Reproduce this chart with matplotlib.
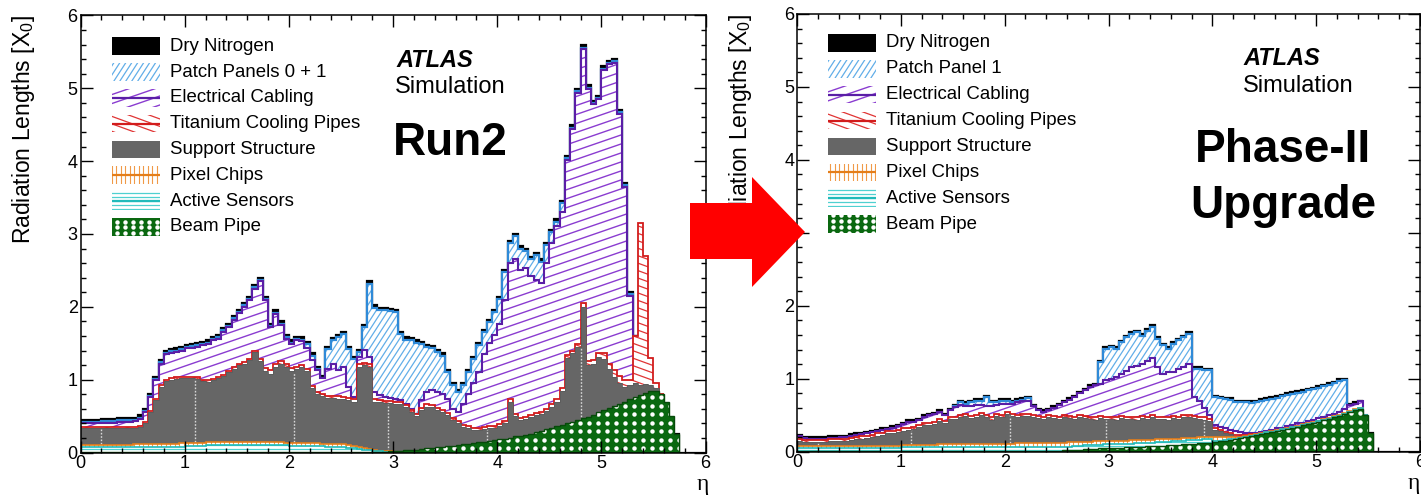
import numpy as np
import matplotlib
matplotlib.use("Agg")
import matplotlib.pyplot as plt
from matplotlib.collections import LineCollection
from matplotlib.patches import Rectangle, Polygon
from matplotlib.ticker import MultipleLocator

plt.rcParams['font.family'] = ['Liberation Sans', 'DejaVu Sans']
plt.rcParams['mathtext.fontset'] = 'custom'
plt.rcParams['mathtext.rm'] = 'Liberation Sans'
plt.rcParams['mathtext.it'] = 'Liberation Sans:italic'
plt.rcParams['mathtext.bf'] = 'Liberation Sans:bold'

# ---------------------------------------------------------------------------
# Data: eta bins of width 0.05 from 0 to 6 (120 bins).
# Each array is the upper edge (cumulative) of a stacked component, read off
# the chart.  0 means "component absent here" (edge = edge of the one below).
# ---------------------------------------------------------------------------
eta_edges = np.linspace(0.0, 6.0, 121)

# ----------------------------- Run 2 -----------------------------------
run2_beampipe = ([0.005] * 50
    + [0.008, 0.008, 0.01, 0.01, 0.01, 0.01, 0.01, 0.01, 0.01, 0.015]
    + [0.02, 0.025, 0.03, 0.035, 0.04, 0.05, 0.055, 0.06, 0.07, 0.075]
    + [0.085, 0.09, 0.1, 0.11, 0.12, 0.13, 0.14, 0.15, 0.16, 0.17]
    + [0.18, 0.19, 0.2, 0.22, 0.23, 0.24, 0.26, 0.28, 0.3, 0.32]
    + [0.34, 0.36, 0.38, 0.4, 0.42, 0.44, 0.47, 0.49, 0.52, 0.55]
    + [0.58, 0.61, 0.64, 0.67, 0.7, 0.73, 0.76, 0.79, 0.82, 0.85]
    + [0.85, 0.8, 0.7, 0.5, 0.25, 0, 0, 0, 0, 0])
run2_sensors = ([0.075] * 10 + [0.08] * 10
    + [0.09, 0.09, 0.095, 0.095, 0.1, 0.1, 0.1, 0.1, 0.1, 0.1]
    + [0.1] * 10
    + [0.095, 0.095, 0.09, 0.09, 0.09, 0.085, 0.085, 0.08, 0.08, 0.08]
    + [0.07, 0.065, 0.06, 0.05, 0.04, 0.03, 0.02, 0.015, 0, 0]
    + [0] * 60)
run2_chips = ([0.105] * 10
    + [0.11, 0.11, 0.11, 0.115, 0.115, 0.115, 0.12, 0.12, 0.12, 0.125]
    + [0.13, 0.13, 0.135, 0.135, 0.14, 0.14, 0.14, 0.14, 0.14, 0.14]
    + [0.14, 0.14, 0.14, 0.14, 0.14, 0.14, 0.14, 0.14, 0.14, 0.135]
    + [0.13, 0.13, 0.13, 0.125, 0.125, 0.125, 0.12, 0.12, 0.12, 0.12]
    + [0.11, 0.1, 0.09, 0.075, 0.06, 0.045, 0.03, 0.02, 0.015, 0]
    + [0] * 60)
run2_support = ([0.34] * 10
    + [0.34, 0.35, 0.4, 0.55, 0.72, 0.9, 0.98, 1.0, 1.01, 1.02]
    + [1.02, 1.02, 1.01, 0.98, 0.97, 0.99, 1.02, 1.05, 1.1, 1.15]
    + [1.2, 1.22, 1.27, 1.38, 1.25, 1.12, 1.08, 1.18, 1.22, 1.18]
    + [1.12, 1.15, 1.17, 1.12, 0.88, 0.8, 0.77, 0.75, 0.75, 0.74]
    + [0.73, 0.72, 0.7, 1.18, 1.2, 1.18, 0.7, 0.69, 0.68, 0.68]
    + [0.67, 0.66, 0.62, 0.56, 0.5, 0.58, 0.63, 0.62, 0.58, 0.55]
    + [0.51, 0.45, 0.4, 0.35, 0.33, 0.31, 0.31, 0.32, 0.33, 0.34]
    + [0.36, 0.4, 0.7, 0.5, 0.44, 0.46, 0.49, 0.51, 0.53, 0.57]
    + [0.62, 0.7, 0.85, 1.3, 1.36, 1.45, 2.0, 1.2, 1.22, 1.31]
    + [1.29, 1.15, 1.04, 0.95, 0.9, 0.92, 0.95, 0.93, 0.94, 0.92]
    + [0.88, 0, 0, 0, 0, 0, 0, 0, 0, 0])
run2_cooling = ([0.35] * 10
    + [0.35, 0.36, 0.42, 0.57, 0.74, 0.92, 1.0, 1.02, 1.03, 1.04]
    + [1.04, 1.04, 1.03, 1.0, 0.99, 1.01, 1.04, 1.07, 1.12, 1.17]
    + [1.22, 1.24, 1.29, 1.4, 1.28, 1.16, 1.13, 1.22, 1.26, 1.22]
    + [1.16, 1.18, 1.2, 1.15, 0.91, 0.83, 0.8, 0.78, 0.78, 0.77]
    + [0.76, 0.75, 0.73, 1.21, 1.23, 1.21, 0.73, 0.72, 0.71, 0.71]
    + [0.7, 0.69, 0.65, 0.59, 0.53, 0.61, 0.66, 0.65, 0.61, 0.58]
    + [0.54, 0.48, 0.43, 0.38, 0.36, 0.34, 0.34, 0.35, 0.36, 0.37]
    + [0.39, 0.43, 0.73, 0.53, 0.47, 0.49, 0.52, 0.54, 0.56, 0.6]
    + [0.66, 0.74, 0.89, 1.34, 1.4, 1.49, 2.05, 1.25, 1.27, 1.36]
    + [1.36, 1.22, 1.13, 1.05, 1.0, 1.0, 1.6, 3.15, 2.7, 1.3]
    + [0.95, 0, 0, 0, 0, 0, 0, 0, 0, 0])
run2_cabling = ([0.4, 0.4, 0.4, 0.4, 0.41, 0.41, 0.41, 0.42, 0.42, 0.42]
    + [0.43, 0.46, 0.55, 0.76, 0.99, 1.22, 1.35, 1.37, 1.38, 1.4]
    + [1.43, 1.44, 1.45, 1.47, 1.49, 1.54, 1.56, 1.66, 1.72, 1.82]
    + [1.91, 2.0, 2.09, 2.25, 2.35, 2.09, 1.72, 1.9, 1.75, 1.56]
    + [1.49, 1.54, 1.53, 1.43, 1.27, 1.13, 1.02, 1.15, 1.22, 1.13]
    + [1.18, 0.9, 0.76, 1.31, 1.41, 1.31, 0.83, 0.79, 0.76, 0.75]
    + [0.74, 0.72, 0.67, 0.6, 0.53, 0.72, 0.83, 0.86, 0.83, 0.81]
    + [0.74, 0.6, 0.56, 0.67, 0.81, 0.95, 1.1, 1.35, 1.5, 1.62]
    + [1.77, 2.1, 2.6, 2.65, 2.51, 2.53, 2.42, 2.37, 2.33, 2.6]
    + [2.88, 3.11, 3.3, 4.02, 4.44, 4.94, 5.54, 4.99, 4.78, 4.85]
    + [5.25, 5.33, 5.35, 4.65, 3.65, 2.15, 0, 0, 0, 0]
    + [0] * 10)
run2_patch = ([0.42, 0.42, 0.42, 0.42, 0.43, 0.43, 0.43, 0.44, 0.44, 0.44]
    + [0.45, 0.48, 0.57, 0.78, 1.01, 1.24, 1.37, 1.39, 1.4, 1.42]
    + [1.45, 1.46, 1.47, 1.49, 1.51, 1.56, 1.58, 1.68, 1.74, 1.84]
    + [1.93, 2.02, 2.11, 2.27, 2.37, 2.11, 1.74, 1.92, 1.77, 1.58]
    + [1.51, 1.56, 1.55, 1.49, 1.33, 1.15, 1.02, 1.42, 1.54, 1.58]
    + [1.63, 1.42, 1.28, 1.38, 1.72, 2.32, 1.99, 1.95, 1.95, 1.94]
    + [1.93, 1.63, 1.55, 1.54, 1.51, 1.49, 1.45, 1.43, 1.38, 1.33]
    + [1.1, 0.92, 0.83, 0.92, 1.1, 1.28, 1.47, 1.65, 1.79, 1.93]
    + [2.11, 2.48, 2.87, 2.97, 2.8, 2.76, 2.66, 2.71, 2.62, 2.85]
    + [3.03, 3.17, 3.42, 4.04, 4.46, 4.96, 5.56, 5.01, 4.8, 4.87]
    + [5.27, 5.35, 5.37, 4.67, 3.67, 2.17, 0, 0, 0, 0]
    + [0] * 10)
run2_nitrogen = ([0.45, 0.45, 0.45, 0.45, 0.46, 0.46, 0.46, 0.47, 0.47, 0.47]
    + [0.48, 0.51, 0.6, 0.81, 1.04, 1.27, 1.4, 1.42, 1.43, 1.45]
    + [1.48, 1.49, 1.5, 1.52, 1.54, 1.59, 1.61, 1.71, 1.77, 1.87]
    + [1.96, 2.05, 2.14, 2.3, 2.4, 2.14, 1.77, 1.95, 1.8, 1.61]
    + [1.54, 1.59, 1.58, 1.52, 1.36, 1.18, 1.05, 1.45, 1.57, 1.61]
    + [1.66, 1.45, 1.31, 1.41, 1.75, 2.35, 2.02, 1.98, 1.98, 1.97]
    + [1.96, 1.66, 1.58, 1.57, 1.54, 1.52, 1.48, 1.46, 1.41, 1.36]
    + [1.13, 0.95, 0.86, 0.95, 1.13, 1.31, 1.5, 1.68, 1.82, 1.96]
    + [2.14, 2.51, 2.9, 3.0, 2.83, 2.79, 2.69, 2.74, 2.65, 2.88]
    + [3.06, 3.2, 3.45, 4.07, 4.49, 4.99, 5.59, 5.04, 4.83, 4.9]
    + [5.3, 5.38, 5.4, 4.7, 3.7, 2.2, 0, 0, 0, 0]
    + [0] * 10)
run2_gap_eta = [0.2, 1.1, 2.05, 2.95, 3.9, 4.8]

# ----------------------------- Phase-II --------------------------------
p2_beampipe = ([0.012] * 50
    + [0.015, 0.018, 0.02, 0.025, 0.03, 0.035, 0.04, 0.042, 0.045, 0.048]
    + [0.05, 0.052, 0.055, 0.058, 0.062, 0.065, 0.068, 0.072, 0.076, 0.078]
    + [0.08, 0.085, 0.09, 0.095, 0.1, 0.105, 0.11, 0.115, 0.12, 0.125]
    + [0.13, 0.14, 0.15, 0.16, 0.17, 0.185, 0.2, 0.21, 0.225, 0.24]
    + [0.26, 0.27, 0.28, 0.3, 0.31, 0.33, 0.34, 0.36, 0.38, 0.39]
    + [0.41, 0.43, 0.45, 0.47, 0.49, 0.51, 0.54, 0.57, 0.59, 0.5]
    + [0.25, 0, 0, 0, 0, 0, 0, 0, 0, 0])
p2_sensors = ([0.055] * 20 + [0.06] * 10 + [0.065] * 20
    + [0.065, 0.068, 0.07, 0.075, 0.08, 0.085, 0.09, 0.092, 0.095, 0.1]
    + [0.1, 0.102, 0.105, 0.108, 0.112, 0.115, 0.118, 0.122, 0.126, 0.13]
    + [0.13, 0.135, 0.14, 0.145, 0.15, 0.155, 0.16, 0.165, 0.17, 0.175]
    + [0.145, 0.15, 0.16, 0.17, 0.18, 0.19, 0.205, 0.215, 0.23, 0.245]
    + [0.265, 0.275, 0.285, 0.305, 0.315, 0.335, 0.345, 0.365, 0.385, 0.395]
    + [0.415, 0.435, 0.455, 0.475, 0.495, 0.515, 0.545, 0.575, 0.595, 0]
    + [0] * 10)
p2_chips = ([0.075] * 10 + [0.08] * 10
    + [0.09, 0.09, 0.09, 0.09, 0.095, 0.095, 0.095, 0.1, 0.1, 0.1]
    + [0.1, 0.1, 0.1, 0.105, 0.105, 0.105, 0.11, 0.11, 0.11, 0.11]
    + [0.11, 0.11, 0.115, 0.115, 0.115, 0.12, 0.12, 0.12, 0.12, 0.125]
    + [0.125, 0.125, 0.13, 0.13, 0.13, 0.135, 0.135, 0.14, 0.14, 0.14]
    + [0.145, 0.145, 0.15, 0.15, 0.155, 0.155, 0.16, 0.165, 0.165, 0.17]
    + [0.17, 0.175, 0.18, 0.18, 0.185, 0.19, 0.19, 0.195, 0.2, 0.2]
    + [0.2, 0.2, 0.2, 0.2, 0.2, 0.205, 0.215, 0.225, 0.24, 0.255]
    + [0.275, 0.285, 0.295, 0.315, 0.325, 0.345, 0.355, 0.375, 0.395, 0.405]
    + [0.425, 0.445, 0.465, 0.485, 0.505, 0.525, 0.555, 0.585, 0.6, 0]
    + [0] * 10)
p2_support = ([0.14, 0.135, 0.13, 0.13, 0.135, 0.135, 0.14, 0.14, 0.145, 0.15]
    + [0.16, 0.17, 0.18, 0.19, 0.2, 0.22, 0.23, 0.25, 0.26, 0.27]
    + [0.29, 0.3, 0.31, 0.34, 0.36, 0.37, 0.38, 0.42, 0.39, 0.45]
    + [0.45, 0.47, 0.49, 0.46, 0.47, 0.5, 0.47, 0.44, 0.49, 0.47]
    + [0.52, 0.49, 0.47, 0.49, 0.49, 0.47, 0.46, 0.45, 0.47, 0.46]
    + [0.45, 0.47, 0.46, 0.45, 0.47, 0.46, 0.45, 0.44, 0.46, 0.45]
    + [0.45, 0.44, 0.46, 0.45, 0.45, 0.44, 0.46, 0.45, 0.47, 0.45]
    + [0.45, 0.44, 0.46, 0.45, 0.47, 0.47, 0.46, 0.45, 0.44, 0.42]
    + [0.3, 0.28, 0.26, 0.24, 0.22, 0.22, 0.22, 0.23, 0, 0]
    + [0] * 30)
p2_cooling = ([0.17, 0.165, 0.16, 0.16, 0.165, 0.165, 0.17, 0.17, 0.175, 0.18]
    + [0.19, 0.2, 0.21, 0.22, 0.23, 0.25, 0.26, 0.28, 0.29, 0.3]
    + [0.32, 0.33, 0.34, 0.37, 0.39, 0.4, 0.41, 0.45, 0.42, 0.48]
    + [0.48, 0.5, 0.52, 0.49, 0.5, 0.53, 0.5, 0.47, 0.52, 0.5]
    + [0.55, 0.52, 0.5, 0.52, 0.52, 0.5, 0.49, 0.48, 0.5, 0.49]
    + [0.48, 0.5, 0.49, 0.48, 0.5, 0.49, 0.48, 0.47, 0.49, 0.48]
    + [0.48, 0.47, 0.49, 0.48, 0.48, 0.47, 0.49, 0.48, 0.5, 0.48]
    + [0.48, 0.47, 0.49, 0.48, 0.5, 0.5, 0.49, 0.48, 0.47, 0.45]
    + [0.32, 0.3, 0.27, 0.25, 0.23, 0.23, 0.23, 0.24, 0, 0]
    + [0] * 30)
p2_cabling = ([0.21, 0.185, 0.175, 0.175, 0.18, 0.18, 0.19, 0.19, 0.2, 0.2]
    + [0.22, 0.23, 0.24, 0.25, 0.27, 0.28, 0.3, 0.31, 0.33, 0.35]
    + [0.38, 0.41, 0.41, 0.43, 0.48, 0.5, 0.51, 0.55, 0.5, 0.57]
    + [0.61, 0.64, 0.62, 0.63, 0.64, 0.64, 0.62, 0.63, 0.64, 0.65]
    + [0.66, 0.66, 0.68, 0.69, 0.7, 0.62, 0.57, 0.55, 0.57, 0.6]
    + [0.64, 0.68, 0.71, 0.75, 0.8, 0.84, 0.89, 0.91, 0.93, 0.98]
    + [1.0, 1.02, 1.07, 1.11, 1.16, 1.18, 1.2, 1.25, 1.29, 1.16]
    + [1.07, 1.09, 1.09, 1.14, 1.16, 1.2, 0.75, 0.7, 0.6, 0.5]
    + [0.36, 0.34, 0.32, 0.3, 0.29, 0.27, 0.26, 0.25, 0.26, 0.27]
    + [0.29, 0.3, 0.32, 0.33, 0.35, 0.37, 0.39, 0.4, 0.42, 0.44]
    + [0.46, 0.48, 0.5, 0.52, 0.55, 0.58, 0.64, 0.66, 0.69, 0.5]
    + [0.25, 0, 0, 0, 0, 0, 0, 0, 0, 0])
p2_patch = ([0.21, 0.185, 0.175, 0.175, 0.18, 0.18, 0.19, 0.19, 0.2, 0.2]
    + [0.22, 0.23, 0.24, 0.25, 0.27, 0.28, 0.3, 0.31, 0.33, 0.35]
    + [0.38, 0.41, 0.41, 0.43, 0.48, 0.5, 0.51, 0.55, 0.5, 0.57]
    + [0.62, 0.68, 0.66, 0.68, 0.7, 0.7, 0.75, 0.68, 0.68, 0.7]
    + [0.7, 0.68, 0.7, 0.71, 0.73, 0.62, 0.57, 0.55, 0.57, 0.6]
    + [0.64, 0.68, 0.71, 0.75, 0.8, 0.84, 0.89, 0.91, 1.23, 1.41]
    + [1.43, 1.41, 1.5, 1.57, 1.62, 1.64, 1.59, 1.66, 1.71, 1.55]
    + [1.46, 1.41, 1.48, 1.53, 1.57, 1.62, 1.14, 1.14, 1.12, 1.12]
    + [0.75, 0.73, 0.72, 0.71, 0.68, 0.68, 0.68, 0.67, 0.68, 0.7]
    + [0.71, 0.725, 0.74, 0.76, 0.78, 0.795, 0.81, 0.825, 0.84, 0.86]
    + [0.88, 0.9, 0.92, 0.94, 0.97, 0.98, 0.64, 0.66, 0.69, 0.5]
    + [0.25, 0, 0, 0, 0, 0, 0, 0, 0, 0])
p2_nitrogen = ([0.23, 0.205, 0.195, 0.195, 0.2, 0.2, 0.21, 0.21, 0.22, 0.22]
    + [0.24, 0.25, 0.26, 0.27, 0.29, 0.3, 0.32, 0.33, 0.35, 0.37]
    + [0.4, 0.43, 0.43, 0.45, 0.5, 0.52, 0.53, 0.57, 0.52, 0.59]
    + [0.64, 0.7, 0.68, 0.7, 0.72, 0.72, 0.77, 0.7, 0.7, 0.72]
    + [0.72, 0.7, 0.72, 0.73, 0.75, 0.64, 0.59, 0.57, 0.59, 0.62]
    + [0.66, 0.7, 0.73, 0.77, 0.82, 0.86, 0.91, 0.93, 1.25, 1.43]
    + [1.45, 1.43, 1.52, 1.59, 1.64, 1.66, 1.61, 1.68, 1.73, 1.57]
    + [1.48, 1.43, 1.5, 1.55, 1.59, 1.64, 1.16, 1.16, 1.14, 1.14]
    + [0.77, 0.75, 0.74, 0.73, 0.7, 0.7, 0.7, 0.69, 0.7, 0.72]
    + [0.73, 0.745, 0.76, 0.78, 0.8, 0.815, 0.83, 0.845, 0.86, 0.88]
    + [0.9, 0.92, 0.94, 0.96, 0.99, 1.0, 0.66, 0.68, 0.69, 0.5]
    + [0.25, 0, 0, 0, 0, 0, 0, 0, 0, 0])
p2_gap_eta = [0.2, 1.1, 2.05, 2.98, 3.92]

# component keys, bottom of the stack first
stack_keys = ["beampipe", "sensors", "chips", "support", "cooling",
              "cabling", "patch", "nitrogen"]
run2_labels = {"nitrogen": "Dry Nitrogen", "patch": "Patch Panels 0 + 1",
               "cabling": "Electrical Cabling", "cooling": "Titanium Cooling Pipes",
               "support": "Support Structure", "chips": "Pixel Chips",
               "sensors": "Active Sensors", "beampipe": "Beam Pipe"}
p2_labels = dict(run2_labels, patch="Patch Panel 1")

# ---------------------------------------------------------------------------
# Styles (ROOT-like fills)
# ---------------------------------------------------------------------------
STYLES = {
    "nitrogen": dict(face="black", line="black", lw=1.6),
    "patch":    dict(face="white", hatch=("#62aee8", 57, 5.0, 0.9), line="#2f8ad8", lw=1.6),
    "cabling":  dict(face="white", hatch=("#8a3cd0", 19, 8.5, 1.0), line="#5a1ea6", lw=1.5, mid=True),
    "cooling":  dict(face="white", hatch=("#e03434", -20, 7.0, 0.9), line="#d21c1c", lw=1.3, mid=True),
    "support":  dict(face="#666666", line="#5c5c5c", lw=0.6),
    "chips":    dict(face="white", hatch=("#f09a48", 90, 4.5, 0.8), line="#e47e1a", lw=1.2, mid=True),
    "sensors":  dict(face="white", hatch=("#4fd0d0", 0, 4.0, 0.9), line="#1fbaba", lw=1.2, mid=True),
    "beampipe": dict(face="#0a6810", dots=True, line="#064a0a", lw=1.0),
}

FIG_W, FIG_H = 1421, 498
fig = plt.figure(figsize=(FIG_W / 100, FIG_H / 100), dpi=100)
fig.patch.set_facecolor("white")


def axes_px(ax):
    pos = ax.get_position()
    return pos.width * FIG_W, pos.height * FIG_H


def add_hatch(ax, clip, color, angle, spacing, lw, zorder):
    W, H = axes_px(ax)
    a = np.deg2rad(angle)
    d = np.array([np.cos(a), np.sin(a)])
    nrm = np.array([-np.sin(a), np.cos(a)])
    R = np.hypot(W, H)
    c0 = np.array([W / 2, H / 2])
    offs = np.arange(-R, R + spacing, spacing)
    p0 = c0 + offs[:, None] * nrm - R * d
    p1 = c0 + offs[:, None] * nrm + R * d
    segs = np.stack([p0 / [W, H], p1 / [W, H]], axis=1)
    lc = LineCollection(segs, colors=color, linewidths=lw,
                        transform=ax.transAxes, zorder=zorder)
    ax.add_collection(lc, autolim=False)
    lc.set_clip_path(clip)


def add_dots(ax, clip, zorder, dx=9.0, dy=8.5, size=3.2):
    W, H = axes_px(ax)
    gx, gy = np.meshgrid(np.arange(dx / 2, W, dx) / W, np.arange(dy / 2, H, dy) / H)
    sc = ax.scatter(gx.ravel(), gy.ravel(), s=size ** 2, c="white", marker="o",
                    linewidths=0, transform=ax.transAxes, zorder=zorder)
    sc.set_clip_path(clip)


def draw_stack(ax, layers, gaps):
    levels = np.maximum.accumulate(np.vstack([np.asarray(l, float) for l in layers]), axis=0)
    n = len(stack_keys)
    for k in reversed(range(n)):           # ROOT draws the biggest first
        key = stack_keys[k]
        st = STYLES[key]
        lev = levels[k]
        below = levels[k - 1] if k > 0 else np.zeros_like(lev)
        z = 1.0 + 0.17 * (n - 1 - k)
        patch = ax.stairs(lev, eta_edges, baseline=0, fill=True, facecolor=st["face"],
                          edgecolor="none", linewidth=0, zorder=z)
        if "hatch" in st:
            add_hatch(ax, patch, *st["hatch"], zorder=z + 0.04)
        if st.get("dots"):
            add_dots(ax, patch, z + 0.04)
        valid = (lev - below) > 1e-9
        if key == "nitrogen":
            valid |= lev <= 1e-9
        v = valid.copy()
        v[1:] |= valid[:-1]
        v[:-1] |= valid[1:]
        ax.stairs(np.where(v, lev, np.nan), eta_edges, baseline=None,
                  color=st["line"], linewidth=st["lw"], zorder=z + 0.08)
        if key == "support":
            chips_top = levels[2]
            for g in gaps:
                i = int(g / 0.05)
                ax.vlines(g, chips_top[i] + 0.01, lev[i] - 0.01, colors="#d8d8d8",
                          linestyles=(0, (1.2, 1.2)), linewidth=1.0, zorder=z + 0.06)


def draw_legend(ax, labels, y0, dy):
    x0, w, h, tx = 0.05, 0.077, 0.0405, 0.1425
    for i, key in enumerate(reversed(stack_keys)):
        st = STYLES[key]
        yc = y0 - i * dy
        rect = Rectangle((x0, yc - h / 2), w, h, transform=ax.transAxes,
                         facecolor=st["face"], edgecolor="none", zorder=4)
        ax.add_patch(rect)
        if "hatch" in st:
            add_hatch(ax, rect, *st["hatch"], zorder=4.1)
        if st.get("dots"):
            add_dots(ax, rect, 4.1, dx=8.0, dy=6.0, size=3.2)
        if st.get("mid"):
            ax.plot([x0, x0 + w], [yc, yc], transform=ax.transAxes, color=st["line"],
                    lw=1.6, solid_capstyle="butt", zorder=4.2)
        ax.text(tx, yc, labels[key], transform=ax.transAxes, fontsize=13.4,
                ha="left", va="center", zorder=5)


def style_axes(ax, xlabel_x):
    ax.set_xlim(0, 6)
    ax.set_ylim(0, 6)
    ax.set_axisbelow(False)
    ax.xaxis.set_major_locator(MultipleLocator(1))
    ax.xaxis.set_minor_locator(MultipleLocator(0.2))
    ax.yaxis.set_major_locator(MultipleLocator(1))
    ax.yaxis.set_minor_locator(MultipleLocator(0.2))
    ax.tick_params(which="both", direction="in", top=True, right=True, width=1.0,
                   labelsize=13)
    ax.tick_params(which="major", length=8.5)
    ax.tick_params(which="minor", length=3.8)
    ax.tick_params(axis="x", pad=2)
    ax.tick_params(axis="y", pad=2)
    for s in ax.spines.values():
        s.set_linewidth(1.1)
        s.set_zorder(3)
    ax.set_ylabel(r"Radiation Lengths [X$_\mathregular{0}$]", fontsize=16.5, loc="top")
    ax.yaxis.set_label_coords(-0.069, 1.0)
    ax.set_xlabel("η", fontsize=17, family=["Liberation Serif", "DejaVu Serif"],
                  va="baseline", ha="center")
    ax.xaxis.set_label_coords(xlabel_x, -0.086)


def fix_limits(ax):
    ax.set_xlim(0, 6)
    ax.set_ylim(0, 6)
    ax.set_autoscale_on(False)


# ----------------------------- left panel --------------------------------
axL = fig.add_axes([80.5 / FIG_W, 1 - 452.5 / FIG_H, 625 / FIG_W, 437 / FIG_H])
style_axes(axL, 0.996)
draw_stack(axL, [run2_beampipe, run2_sensors, run2_chips, run2_support, run2_cooling,
                 run2_cabling, run2_patch, run2_nitrogen], run2_gap_eta)
draw_legend(axL, run2_labels, 0.9297, 0.05904)
axL.text(0.506, 0.883, "ATLAS", transform=axL.transAxes, fontsize=17,
         fontweight="bold", fontstyle="italic", va="baseline", zorder=6)
axL.text(0.503, 0.822, "Simulation", transform=axL.transAxes, fontsize=17,
         va="baseline", zorder=6)
axL.text(0.50, 0.681, "Run2", transform=axL.transAxes, fontsize=33,
         fontweight="bold", va="baseline", zorder=6)
fix_limits(axL)

# ----------------------------- right panel -------------------------------
axR = fig.add_axes([797 / FIG_W, 1 - 451.7 / FIG_H, 623 / FIG_W, 437.7 / FIG_H])
style_axes(axR, 0.99)
draw_stack(axR, [p2_beampipe, p2_sensors, p2_chips, p2_support, p2_cooling,
                 p2_cabling, p2_patch, p2_nitrogen], p2_gap_eta)
draw_legend(axR, p2_labels, 0.9344, 0.05926)
axR.text(0.716, 0.8835, "ATLAS", transform=axR.transAxes, fontsize=17,
         fontweight="bold", fontstyle="italic", va="baseline", zorder=6)
axR.text(0.716, 0.822, "Simulation", transform=axR.transAxes, fontsize=17,
         va="baseline", zorder=6)
axR.text(0.780, 0.662, "Phase-II", transform=axR.transAxes, fontsize=33,
         fontweight="bold", ha="center", va="baseline", zorder=6)
axR.text(0.780, 0.534, "Upgrade", transform=axR.transAxes, fontsize=33,
         fontweight="bold", ha="center", va="baseline", zorder=6)
fix_limits(axR)

# ----------------------------- red arrow ---------------------------------
arrow_px = [(690, 203), (752, 203), (752, 177), (805, 232), (752, 287), (752, 259), (690, 259)]
arrow = Polygon([(x / FIG_W, 1 - y / FIG_H) for x, y in arrow_px], closed=True,
                transform=fig.transFigure, facecolor="#ff0000", edgecolor="none", zorder=20)
fig.add_artist(arrow)

fig.savefig("out.png", dpi=100)
